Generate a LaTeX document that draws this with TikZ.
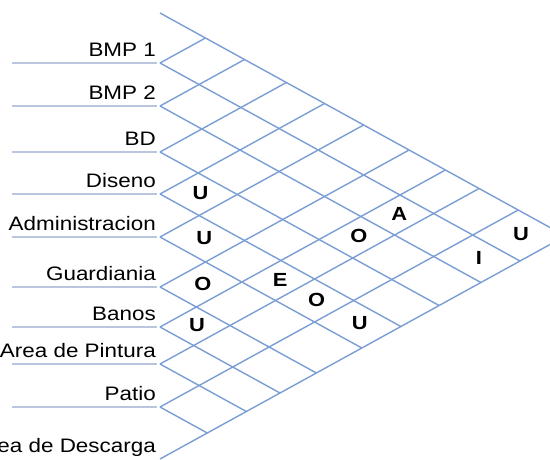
\documentclass[tikz,border=0pt]{standalone}
\usepackage{fontspec}
\setmainfont{Liberation Sans}[FakeStretch=1.15]
\definecolor{gridblue}{RGB}{122,158,212}
\definecolor{rowline}{RGB}{185,198,222}
\tikzset{
    dept/.style={anchor=base east, inner sep=0pt, font=\fontsize{19.5}{22}\selectfont},
    rel/.style={inner sep=0pt, font=\fontsize{19}{21}\selectfont\bfseries},
    gridline/.style={gridblue, line width=1.4pt}
}
\def\cen{{38,84.5,129,173,215.5,262,307,345.5,385.5,433}}
\begin{document}
\begin{tikzpicture}[x=1pt, y=-1pt]
    \useasboundingbox (0,0) rectangle (550,459);
    \clip (0,0) rectangle (550,459);
    % departments
    \foreach \b/\name/\txt in {63/bmpa/BMP 1, 106/bmpb/BMP 2, 152/bd/BD, 194/diseno/Diseno,
        237/admin/Administracion, 287/guardia/Guardiania, 327/banos/Banos,
        364/pintura/Area de Pintura, 407/patio/Patio}{
        \draw[rowline, line width=1.3pt] (12,\b) -- (157,\b);
        \node[dept] (\name) at (156,\b-6.5) {\txt};
    }
    \node[dept] (descarga) at (156,452.5) {Area de Descarga};
    % grid
    \foreach \b in {13,63,106,152,194,237,287,327,364,407,459}{
        \draw[gridline] (160,\b) -- ++({(\b-13)/1.1},{-(\b-13)/2});
        \draw[gridline] (160,\b) -- ++({(459-\b)/1.1},{(459-\b)/2});
    }
    % relations
    \foreach \i/\j/\r in {4/5/U, 5/6/U, 6/7/O, 7/8/U, 5/8/E, 5/9/O, 5/10/U,
        3/8/O, 2/8/A, 2/10/I, 1/10/U}{
        \pgfmathsetmacro\ya{\cen[\i-1]}
        \pgfmathsetmacro\yb{\cen[\j-1]}
        \node[rel] (rel\i\j) at ({162+(\yb-\ya)/1.1},{(\ya+\yb)/2-1}) {\r};
    }
\end{tikzpicture}
\end{document}
